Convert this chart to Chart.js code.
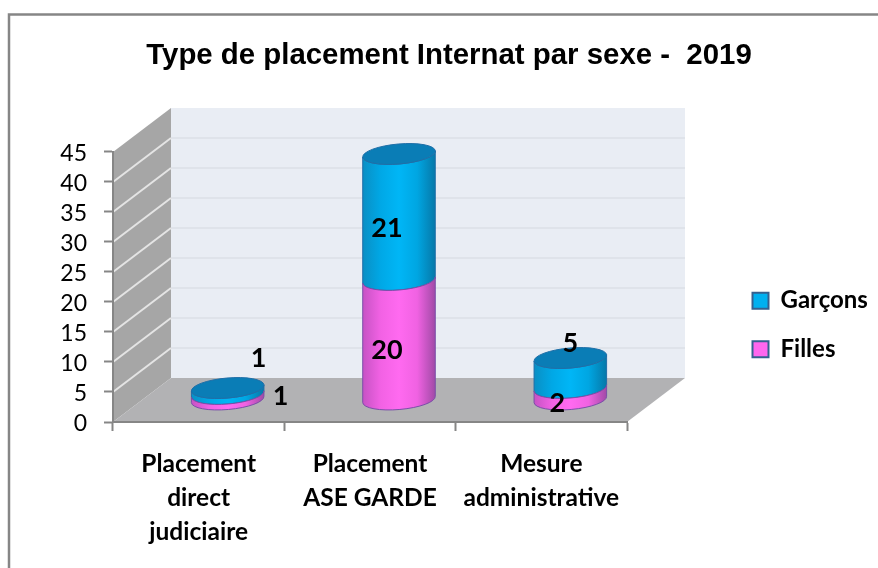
<!DOCTYPE html>
<html>
<head>
<meta charset="utf-8">
<title>Type de placement Internat par sexe - 2019</title>
<script src="https://cdn.jsdelivr.net/npm/chart.js@4/dist/chart.umd.min.js"></script>
<style>
  html, body { margin: 0; padding: 0; background: #ffffff; }
  #wrap { width: 878px; height: 568px; }
</style>
</head>
<body>
<div id="wrap"><canvas id="placementChart" width="878" height="568"></canvas></div>
<script>
const chart_title = 'Type de placement Internat par sexe -  2019';
const categories = [
  ['Placement', 'direct', 'judiciaire'],
  ['Placement', 'ASE GARDE'],
  ['Mesure', 'administrative']
];
const series_names = ['Filles', 'Garçons'];
const filles = [1, 20, 2];
const garcons = [1, 21, 5];
const y_max = 45;
const y_step = 5;

// depth of the fake 3D box, in pixels
const DEPTH_X = 58;
const DEPTH_Y = -44;
const ELLIPSE_RY = 10;
const ELLIPSE_TILT = -5 * Math.PI / 180;

// where each value label sits, relative to the middle of its segment
const filles_label_shift = [[53, 0], [-12, 11], [-13, 10]];
const garcons_label_shift = [[31, -33], [-12, 11], [0, -30]];

const cylinderGradient = (ctx, left, right, stops) => {
  const grad = ctx.createLinearGradient(left, 0, right, 0);
  stops.forEach((c, i) => grad.addColorStop(i / (stops.length - 1), c));
  return grad;
};

class CylinderController extends Chart.BarController {
  draw() {
    const ctx = this.chart.ctx;
    const ds = this.getDataset();
    const isTop = this.index === this.chart.data.datasets.length - 1;
    ctx.save();
    this.getMeta().data.forEach((bar) => {
      const cx = bar.x + DEPTH_X / 2;
      const rx = bar.width / 2;
      const yTop = bar.y + DEPTH_Y / 2;
      const yBase = bar.base + DEPTH_Y / 2;

      // side of the cylinder, the two ellipse arcs join up through the path
      ctx.beginPath();
      ctx.ellipse(cx, yBase, rx, ELLIPSE_RY, ELLIPSE_TILT, Math.PI, 0, true);
      ctx.ellipse(cx, yTop, rx, ELLIPSE_RY, ELLIPSE_TILT, 0, Math.PI, false);
      ctx.closePath();
      ctx.fillStyle = cylinderGradient(ctx, cx - rx, cx + rx, ds.shades);
      ctx.fill();
      ctx.lineWidth = 1;
      ctx.strokeStyle = ds.edgeColor;
      ctx.stroke();

      if (isTop) {
        ctx.beginPath();
        ctx.ellipse(cx, yTop, rx, ELLIPSE_RY, ELLIPSE_TILT, 0, Math.PI * 2);
        ctx.fillStyle = ds.capColor;
        ctx.fill();
        ctx.strokeStyle = ds.edgeColor;
        ctx.stroke();
      }
    });
    ctx.restore();
  }
}
CylinderController.id = 'cylinder';
CylinderController.defaults = Chart.BarController.defaults;
CylinderController.overrides = Chart.BarController.overrides;
Chart.register(CylinderController);

// frame, side wall, back wall and floor
const boxPlugin = {
  id: 'box',
  beforeDraw(chart) {
    const { ctx, chartArea: a, scales: { y } } = chart;
    ctx.save();
    ctx.strokeStyle = '#868686';
    ctx.lineWidth = 2.5;
    ctx.beginPath();
    ctx.moveTo(9, 568);
    ctx.lineTo(9, 14.5);
    ctx.lineTo(878, 14.5);
    ctx.stroke();

    const poly = (points, color) => {
      ctx.beginPath();
      points.forEach((p, i) => (i ? ctx.lineTo(p[0], p[1]) : ctx.moveTo(p[0], p[1])));
      ctx.closePath();
      ctx.fillStyle = color;
      ctx.fill();
    };
    const x0 = a.left, x1 = a.right, y0 = a.bottom, y1 = a.top;
    const dx = DEPTH_X, dy = DEPTH_Y;
    poly([[x0 + dx, y0 + dy], [x1 + dx, y0 + dy], [x1 + dx, y1 + dy], [x0 + dx, y1 + dy]], '#e9edf4');
    poly([[x0, y0], [x0 + dx, y0 + dy], [x0 + dx, y1 + dy], [x0, y1]], '#a6a6a6');
    poly([[x0, y0], [x1, y0], [x1 + dx, y0 + dy], [x0 + dx, y0 + dy]], '#b2b2b4');

    y.ticks.forEach((t) => {
      if (t.value === 0 || t.value === y_max) return;
      const py = y.getPixelForValue(t.value);
      ctx.lineWidth = 2;
      ctx.strokeStyle = '#dfe3ea';
      ctx.beginPath();
      ctx.moveTo(x0 + dx, py + dy);
      ctx.lineTo(x1 + dx, py + dy);
      ctx.stroke();
      ctx.strokeStyle = '#e4e4e4';
      ctx.beginPath();
      ctx.moveTo(x0, py);
      ctx.lineTo(x0 + dx, py + dy);
      ctx.stroke();
    });
    ctx.restore();
  },
  // legend sits further right and lower than the layout would put it
  beforeLayout(chart) {
    const legend = chart.legend;
    if (legend.wrapped) return;
    const fit = legend.fit;
    legend.fit = function () {
      fit.call(this);
      this.width = 251;
    };
    legend.wrapped = true;
  },
  afterLayout(chart) {
    const legend = chart.legend;
    legend.left = 728;
    legend.right = 878;
    legend.top += 41;
    legend.bottom += 41;
    legend.adjustHitBoxes();
  }
};

const labelPlugin = {
  id: 'valueLabels',
  afterDatasetsDraw(chart) {
    const ctx = chart.ctx;
    ctx.save();
    ctx.font = 'bold 27px Lato';
    ctx.fillStyle = '#000000';
    ctx.textAlign = 'center';
    ctx.textBaseline = 'middle';
    chart.data.datasets.forEach((ds, d) => {
      chart.getDatasetMeta(d).data.forEach((bar, i) => {
        const cx = bar.x + DEPTH_X / 2;
        const cy = (bar.y + bar.base) / 2 + DEPTH_Y / 2;
        ctx.fillText(ds.data[i], cx + ds.labelShift[i][0], cy + ds.labelShift[i][1]);
      });
    });
    ctx.restore();
  }
};

const initChart = () => {
  const ctx = document.getElementById('placementChart').getContext('2d');

  let plugin_chart = {
    title: {
      display: true,
      text: chart_title,
      color: '#000000',
      font: { family: '"Liberation Sans"', size: 29.4, weight: 'bold', lineHeight: 1.2 },
      padding: { top: 38, bottom: 78.7 }
    },
    legend: {
      position: 'right',
      reverse: true,
      labels: {
        color: '#000000',
        boxWidth: 16,
        boxHeight: 16,
        padding: 24.5,
        font: { family: 'Lato', size: 24, weight: 'bold' }
      }
    },
    tooltip: { enabled: false }
  };

  let scales_chart = {
    x: {
      stacked: true,
      border: { color: '#868686', width: 2 },
      grid: { drawOnChartArea: false, color: '#868686', tickLength: 9, tickWidth: 2, offset: true },
      ticks: {
        color: '#000000',
        padding: 16,
        maxRotation: 0,
        autoSkip: false,
        font: { family: 'Lato', size: 24.5, weight: 'bold', lineHeight: 1.39 }
      },
      afterFit: (scale) => { scale.height = 146; }
    },
    y: {
      stacked: true,
      min: 0,
      max: y_max,
      border: { color: '#868686', width: 2 },
      grid: { drawOnChartArea: false, color: '#868686', tickLength: 9, tickWidth: 2 },
      ticks: {
        stepSize: y_step,
        autoSkip: false,
        color: '#000000',
        padding: 17,
        labelOffset: 2,
        font: { family: 'Lato', size: 23 }
      },
      afterFit: (scale) => { scale.width = 93; }
    }
  };

  new Chart(ctx, {
    type: 'cylinder',
    data: {
      labels: categories,
      datasets: [
        {
          label: series_names[0],
          data: filles,
          backgroundColor: '#ff66ee',
          borderColor: '#35608f',
          borderWidth: 2,
          edgeColor: '#7a4fa8',
          shades: ['#c652c4', '#f262e4', '#ff6af0', '#f062e2', '#a04aa6'],
          capColor: '#c050c0',
          labelShift: filles_label_shift,
          clip: false
        },
        {
          label: series_names[1],
          data: garcons,
          backgroundColor: '#00b0f0',
          borderColor: '#35608f',
          borderWidth: 2,
          edgeColor: '#1f6fa8',
          shades: ['#0a8fc4', '#00a8e6', '#00b6f6', '#00a6e2', '#0678a8'],
          capColor: '#0a7db6',
          labelShift: garcons_label_shift,
          clip: false
        }
      ]
    },
    options: {
      responsive: false,
      animation: false,
      layout: { padding: { left: 20, right: 0, top: 0, bottom: 0 } },
      categoryPercentage: 0.85,
      barPercentage: 0.5,
      plugins: plugin_chart,
      scales: scales_chart
    },
    plugins: [boxPlugin, labelPlugin]
  });
};

initChart();
</script>
</body>
</html>
